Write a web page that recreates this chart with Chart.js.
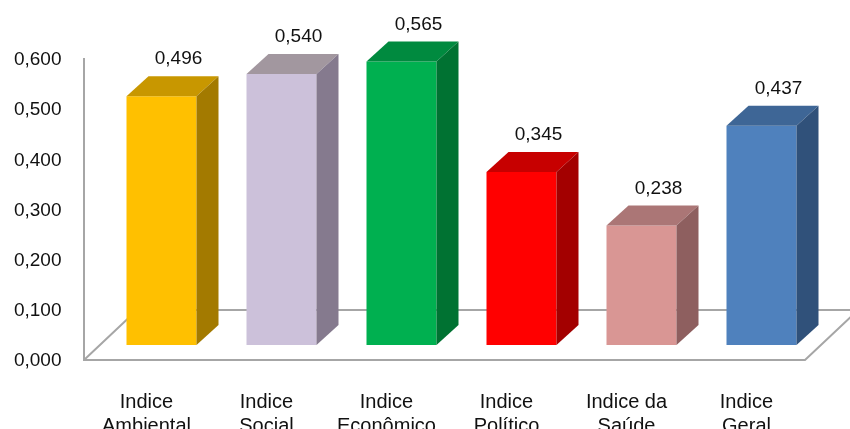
<!DOCTYPE html>
<html>
<head>
<meta charset="utf-8">
<script src="https://cdn.jsdelivr.net/npm/chart.js@4/dist/chart.umd.min.js"></script>
<style>
  html, body { margin: 0; padding: 0; background: #fff; }
  canvas { display: block; }
</style>
</head>
<body>
<canvas id="chart" width="850" height="429"></canvas>
<script>
// data
const categories = [["Indice", "Ambiental"], ["Indice", "Social"], ["Indice", "Econômico"], ["Indice", "Político"], ["Indice da", "Saúde"], ["Indice", "Geral"]];
const values = [0.496, 0.540, 0.565, 0.345, 0.238, 0.437];
const yTicks = [0, 0.1, 0.2, 0.3, 0.4, 0.5, 0.6];

const frontColors = ["#FFC000", "#CCC1DA", "#00B050", "#FF0000", "#D99694", "#4F81BD"];
const topColors = ["#C89700", "#A2979F", "#008A3F", "#C70000", "#AB7676", "#3E6696"];
const sideColors = ["#A37A00", "#857A8E", "#007232", "#A30000", "#8E5F5F", "#30517A"];

const fontFamily = "'Liberation Sans', Arial, sans-serif";
const textColor = "#111";

function fmt(v) {
    return v.toFixed(3).replace(".", ",");
}

// depth of the 3d look
const DX = 22, DY = 20;

const floorPlugin = {
    id: "floor",
    beforeDatasetsDraw(chart) {
        const ctx = chart.ctx;
        const area = chart.chartArea;
        const y = chart.scales.y;
        const zero = y.getPixelForValue(0);
        const frontY = zero + 15, backY = zero - 35;
        const leftX = area.left - 17.5, rightX = area.right - 16.5;
        const depth = 53;
        ctx.save();
        ctx.strokeStyle = "#A6A6A6";
        ctx.lineWidth = 2;
        ctx.beginPath();
        // wall edge
        ctx.moveTo(leftX, y.getPixelForValue(yTicks[yTicks.length - 1]) + 14);
        ctx.lineTo(leftX, frontY);
        // floor
        ctx.lineTo(rightX, frontY);
        ctx.lineTo(rightX + depth, backY);
        ctx.lineTo(leftX + depth, backY);
        ctx.lineTo(leftX, frontY);
        ctx.stroke();
        ctx.restore();
    }
};

const boxPlugin = {
    id: "box3d",
    afterDatasetsDraw(chart) {
        const ctx = chart.ctx;
        const meta = chart.getDatasetMeta(0);
        ctx.save();
        meta.data.forEach((bar, i) => {
            const l = bar.x - bar.width / 2, r = bar.x + bar.width / 2;
            const t = bar.y, b = bar.base;
            // top
            ctx.fillStyle = topColors[i];
            ctx.beginPath();
            ctx.moveTo(l, t);
            ctx.lineTo(l + DX, t - DY);
            ctx.lineTo(r + DX, t - DY);
            ctx.lineTo(r, t);
            ctx.closePath();
            ctx.fill();
            // side
            ctx.fillStyle = sideColors[i];
            ctx.beginPath();
            ctx.moveTo(r, t);
            ctx.lineTo(r + DX, t - DY);
            ctx.lineTo(r + DX, b - DY);
            ctx.lineTo(r, b);
            ctx.closePath();
            ctx.fill();
            // value label
            ctx.fillStyle = textColor;
            ctx.font = "19px " + fontFamily;
            ctx.textAlign = "center";
            ctx.textBaseline = "middle";
            ctx.fillText(fmt(values[i]), bar.x + 17, t - 37);
        });
        ctx.restore();
    }
};

new Chart(document.getElementById("chart"), {
    type: "bar",
    data: {
        labels: categories,
        datasets: [{
            data: values,
            backgroundColor: frontColors,
            borderWidth: 0,
            barPercentage: 70 / 120,
            categoryPercentage: 1
        }]
    },
    options: {
        responsive: false,
        animation: false,
        layout: { padding: { top: 44, right: 28.5, bottom: 0, left: 0 } },
        plugins: {
            legend: { display: false },
            tooltip: { enabled: false }
        },
        scales: {
            x: {
                grid: { display: false, drawTicks: false },
                border: { display: false },
                ticks: {
                    color: textColor,
                    font: { family: fontFamily, size: 20, lineHeight: 1.2 },
                    padding: 45,
                    labelOffset: -15,
                    maxRotation: 0,
                    autoSkip: false
                },
                afterFit(scale) {
                    scale.height = 84;
                    scale.paddingLeft = 0;
                    scale.paddingRight = 0;
                }
            },
            y: {
                min: 0,
                max: 0.6,
                grid: { display: false, drawTicks: false },
                border: { display: false },
                afterBuildTicks(scale) {
                    scale.ticks = yTicks.map(v => ({ value: v }));
                },
                ticks: {
                    color: textColor,
                    font: { family: fontFamily, size: 19 },
                    padding: 40,
                    labelOffset: 16,
                    callback: v => fmt(v)
                },
                afterFit(scale) {
                    scale.width = 101.5;
                    scale.paddingTop = 0;
                    scale.paddingBottom = 0;
                }
            }
        }
    },
    plugins: [floorPlugin, boxPlugin]
});
</script>
</body>
</html>
